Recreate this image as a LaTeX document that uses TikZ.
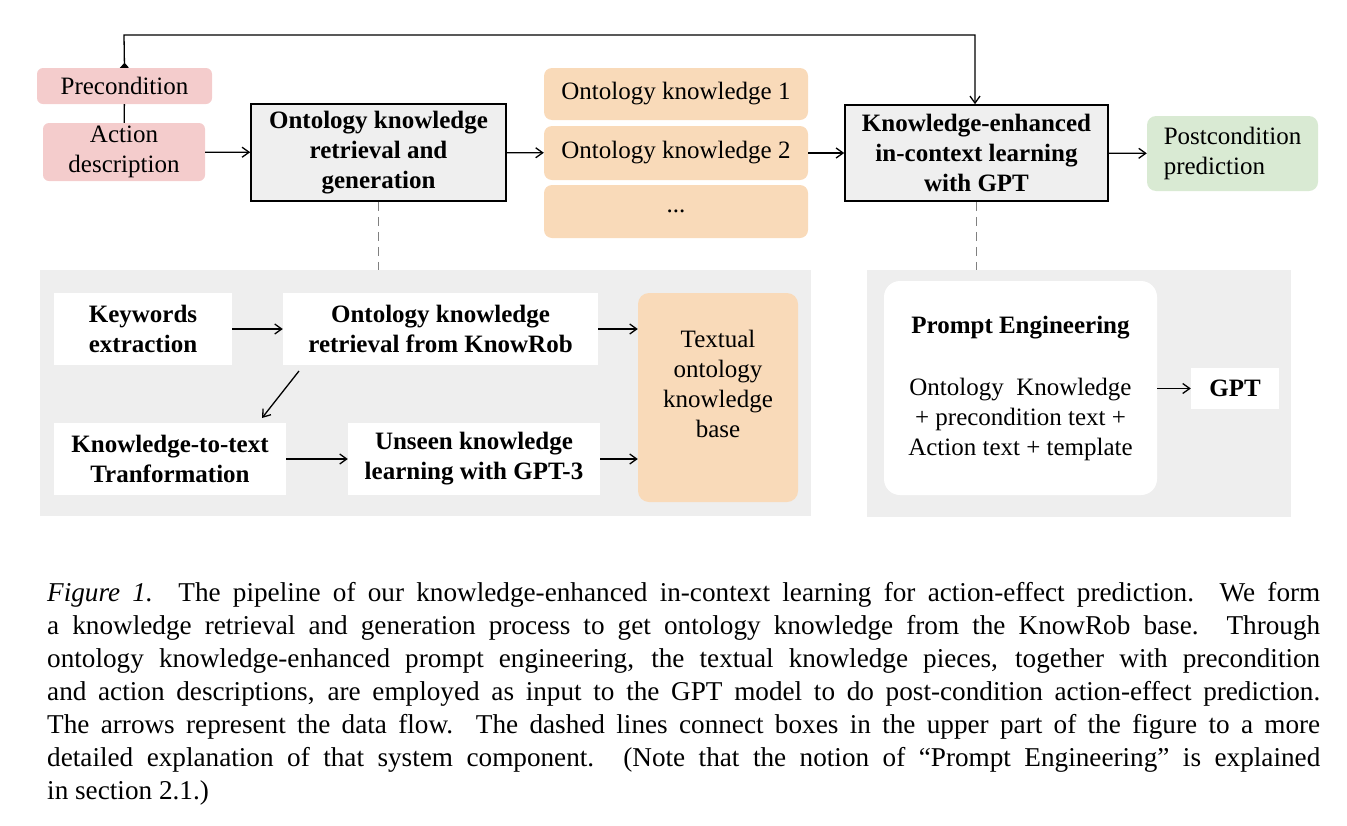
\documentclass[tikz,border=0pt]{standalone}
\usepackage{fontspec}
\setmainfont{Liberation Serif}
\usetikzlibrary{arrows.meta}
\definecolor{precpink}{HTML}{F4CCCC}
\definecolor{knowpeach}{HTML}{F9DAB9}
\definecolor{postgreen}{HTML}{D9EAD3}
\definecolor{stagegray}{HTML}{EFEFEF}
\definecolor{panelgray}{HTML}{EEEEEE}
\newcommand{\boxfont}{\fontsize{25}{30}\selectfont}
\tikzset{
	flow/.style = {line width = 1.3pt, -{Straight Barb[length = 7pt, width = 10pt]}},
	detail/.style = {draw = gray, line width = 0.9pt, dash pattern = on 9pt off 6pt},
	inbox/.style = {rectangle, rounded corners = 6pt, fill = precpink, inner sep = 0pt, align = center},
	knowbox/.style = {rectangle, rounded corners = 8pt, fill = knowpeach, inner sep = 0pt, align = center},
	stagebox/.style = {rectangle, draw, line width = 1.6pt, fill = stagegray, inner sep = 0pt, align = center, font = \boxfont\bfseries},
	subbox/.style = {rectangle, fill = white, inner sep = 0pt, align = center, font = \boxfont\bfseries},
}
\begin{document}
\begin{tikzpicture}[x = 1pt, y = -1pt, font = \boxfont]
	\useasboundingbox (0,0) rectangle (1347,825);
	% upper pipeline
	\node[inbox, minimum width = 175pt, minimum height = 36pt] (prec) at (124.5,86) {Precondition};
	\node[inbox, minimum width = 162pt, minimum height = 58pt] (act) at (124,152) {Action\\description};
	\node[stagebox, minimum width = 255pt, minimum height = 97pt] (retr) at (378.5,152.5) {Ontology knowledge\\retrieval and\\generation};
	\node[knowbox, minimum width = 264pt, minimum height = 52pt] (ok1) at (676,94) {Ontology knowledge 1};
	\node[knowbox, minimum width = 264pt, minimum height = 54pt] (ok2) at (676,153) {Ontology knowledge 2};
	\node[knowbox, minimum width = 264pt, minimum height = 53pt] (okdots) at (676,211.5) {...};
	\node[stagebox, minimum width = 263pt, minimum height = 96pt] (enh) at (976.5,153) {Knowledge-enhanced\\in-context learning\\with GPT};
	\node[rectangle, rounded corners = 9pt, fill = postgreen, inner sep = 0pt, minimum width = 171pt, minimum height = 75pt, align = left] (post) at (1232.5,153.5) {Postcondition\\prediction};
	\coordinate (loopleft) at (124,35);
	\coordinate (loopright) at (975,35);
	\draw[line width = 1.3pt] (prec) -- (act);
	\draw[line width = 1.3pt, {Triangle[reversed, length = 5pt, width = 9pt]}-{Straight Barb[length = 7pt, width = 10pt]}] (prec.north) -- (loopleft) -- (loopright) -- (enh.north -| loopright);
	\draw[flow] (act) -- (retr);
	\draw[flow] (retr) -- (ok2);
	\draw[flow] (ok2) -- (enh);
	\draw[flow] (enh) -- (post);
	% detail panels
	\fill[panelgray] (40,270) coordinate (panelL) rectangle (811,516);
	\fill[panelgray] (867,270) coordinate (panelR) rectangle (1291,517);
	\draw[detail] (retr.south) -- (retr.south |- panelL);
	\draw[detail] (enh.south) -- (enh.south |- panelR);
	% retrieval and generation
	\node[subbox, minimum width = 178pt, minimum height = 72pt] (kw) at (143,329) {Keywords\\extraction};
	\node[subbox, minimum width = 315pt, minimum height = 72pt] (okr) at (440.5,329) {Ontology knowledge\\retrieval from KnowRob};
	\node[subbox, minimum width = 232pt, minimum height = 72pt] (ktt) at (170,459) {Knowledge-to-text\\Tranformation};
	\node[subbox, minimum width = 252pt, minimum height = 72pt] (uns) at (474,459) {Unseen knowledge\\learning with GPT-3};
	\node[knowbox, rounded corners = 11pt, minimum width = 160pt, minimum height = 209pt, text depth = 28pt] (tex) at (718,397.5) {Textual\\ontology\\knowledge\\base};
	\coordinate (diagtop) at (299,371);
	\coordinate (diagend) at (262,418);
	\draw[flow] (kw) -- (okr);
	\draw[flow] (okr) -- (okr -| tex.west);
	\draw[flow] (diagtop) -- (diagend);
	\draw[flow] (ktt) -- (uns);
	\draw[flow] (uns) -- (uns -| tex.west);
	% prompt engineering
	\node[rectangle, rounded corners = 16pt, fill = white, minimum width = 273pt, minimum height = 214pt] (pe) at (1020.5,388) {};
	\node[font = \boxfont\bfseries] (petitle) at (1020.5,328) {Prompt Engineering};
	\node[align = center, inner sep = 0pt] (petext) at (1020.5,419) {Ontology\ \ Knowledge\\+ precondition text +\\Action text + template};
	\node[subbox, minimum width = 88pt, minimum height = 41pt] (gpt) at (1235,388.5) {GPT};
	\draw[flow] (pe.east |- gpt) -- (gpt);
	% caption
	\node[anchor = north west, inner sep = 0pt, text width = 1273pt, align = justify, font = \fontsize{27.2}{33}\selectfont] (caption) at (47,582) {\hyphenpenalty = 10000\textit{Figure 1.} The pipeline of our knowledge-enhanced in-context learning for action-effect prediction. We form\linebreak a knowledge retrieval and generation process to get ontology knowledge from the KnowRob base. Through\linebreak ontology knowledge-enhanced prompt engineering, the textual knowledge pieces, together with precondition\linebreak and action descriptions, are employed as input to the GPT model to do post-condition action-effect prediction.\linebreak The arrows represent the data flow. The dashed lines connect boxes in the upper part of the figure to a more\linebreak detailed explanation of that system component. (Note that the notion of ``Prompt Engineering'' is explained\linebreak in section 2.1.)};
\end{tikzpicture}
\end{document}
